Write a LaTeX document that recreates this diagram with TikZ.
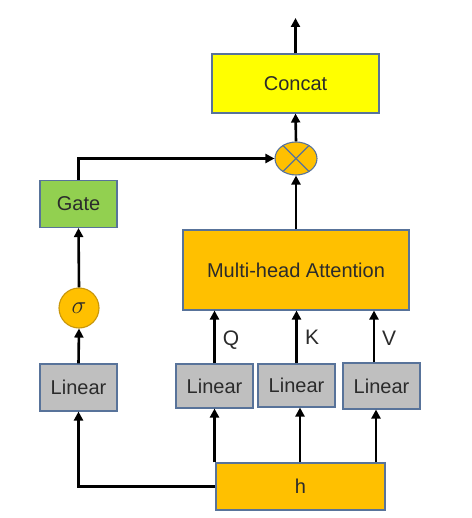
\documentclass[tikz,border=0pt]{standalone}
\usepackage{fontspec}
\setmainfont{Liberation Sans}
\usetikzlibrary{arrows.meta,shapes.geometric}
\definecolor{bordc}{HTML}{58739A}
\definecolor{concatc}{HTML}{FFFF00}
\definecolor{gatec}{HTML}{92D050}
\definecolor{orangec}{HTML}{FFC000}
\definecolor{grayc}{HTML}{BFBFBF}
\definecolor{sigb}{HTML}{C8960A}
\definecolor{txt}{HTML}{2B2B2B}
\begin{document}
\begin{tikzpicture}[x=1pt,y=-1pt,
  font=\fontsize{20}{24}\selectfont,
  box/.style={draw=bordc, line width=1.1pt, text=txt, inner sep=0pt},
  arr/.style={line width=2.6pt, -{Triangle[length=9pt,width=9pt]}},
  ln/.style={line width=2.6pt},
  lbl/.style={text=txt, inner sep=0pt, font=\fontsize{21}{24}\selectfont}]
\useasboundingbox (0,0) rectangle (471,518);
% nodes
\node[box, fill=concatc, minimum width=167pt, minimum height=59pt] (concat) at (295.5,83.5) {Concat};
\coordinate (out) at (295.5,18);
\node[box, fill=orangec, ellipse, minimum width=42pt, minimum height=33pt] (ot) at (296,158.5) {};
\node[box, fill=gatec, minimum width=77pt, minimum height=47pt] (gate) at (78.5,204) {Gate};
\node[box, draw=sigb, fill=orangec, circle, minimum size=40pt] (sig) at (79,308) {\fontsize{28}{30}\selectfont$\sigma$};
\node[box, fill=orangec, minimum width=226pt, minimum height=80pt] (mha) at (296,270) {Multi-head Attention};
\node[box, fill=grayc, minimum width=77pt, minimum height=47pt] (l0) at (78.5,387.5) {Linear};
\node[box, fill=grayc, minimum width=77pt, minimum height=44pt] (lq) at (214.5,386) {Linear};
\node[box, fill=grayc, minimum width=77pt, minimum height=43pt] (lk) at (296.5,385.5) {Linear};
\node[box, fill=grayc, minimum width=77pt, minimum height=46pt] (lv) at (381.5,386) {Linear};
\node[box, fill=orangec, minimum width=169pt, minimum height=47pt] (h) at (300.5,486.5) {h};
\node[lbl] (q) at (231,340) {Q};
\node[lbl] (k) at (312,337) {K};
\node[lbl] (v) at (389,338) {V};
% cross in otimes
\draw[bordc, line width=1.1pt] (ot.45) -- (ot.225) (ot.135) -- (ot.315);
% connectors
\draw[arr] (concat.north) -- (out);
\draw[arr] (ot.north) -- (concat.south);
\draw[arr] (mha.north -| ot.south) -- (ot.south);
\draw[arr] (gate.north) |- (ot.west);
\draw[arr] (sig.north) -- (gate.south);
\draw[arr] (l0.north) -- (sig.south);
\draw[arr] (h.west) -| (l0.south);
\draw[arr] (lq.south |- h.north) -- (lq.south);
\draw[arr] ([xshift=3.5pt]lk.south |- h.north) -- ([xshift=3.5pt]lk.south);
\draw[arr] ([xshift=-5.5pt]lv.south |- h.north) -- ([xshift=-5.5pt]lv.south);
\draw[arr] (lq.north) -- (lq.north |- mha.south);
\draw[arr] (lk.north) -- (lk.north |- mha.south);
\draw[arr] ([xshift=-7.5pt]lv.north) -- ([xshift=-7.5pt]lv.north |- mha.south);
\end{tikzpicture}
\end{document}
